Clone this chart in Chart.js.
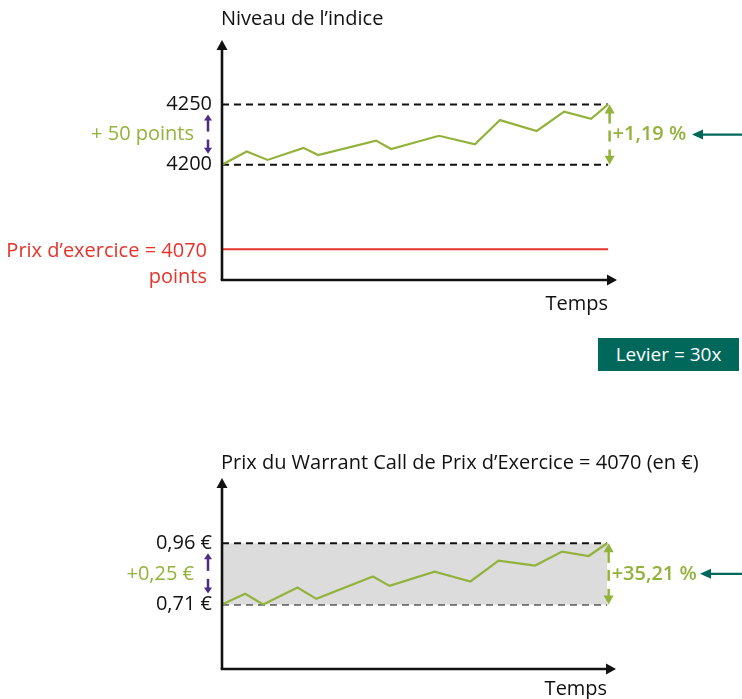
<!DOCTYPE html>
<html lang="fr">
<head>
<meta charset="utf-8">
<script src="https://cdn.jsdelivr.net/npm/chart.js@4.4.1/dist/chart.umd.min.js"></script>
<style>
  body { margin: 0; width: 742px; height: 699px; background: #fff; position: relative; overflow: hidden; font-family: "Open Sans", sans-serif; }
  #indexChart { position: absolute; left: 0; top: 0; }
  #warrantChart { position: absolute; left: 0; top: 430px; }
  #levier { position: absolute; left: 598px; top: 338px; width: 141px; height: 33px; background: #00685b; color: #fff; font-size: 19px; font-weight: 500; line-height: 33px; text-align: center; }
</style>
</head>
<body>
<canvas id="indexChart" width="742" height="340"></canvas>
<div id="levier">Levier = 30x</div>
<canvas id="warrantChart" width="742" height="269"></canvas>
<script>
const temps = [0, 6.4, 11.8, 21.1, 24.9, 39.9, 43.8, 56.2, 65.5, 72, 81.5, 88.6, 95.6, 100];
const niveauIndice = [4200, 4211, 4204, 4214, 4208, 4220, 4213, 4224, 4217, 4237, 4228, 4244, 4238, 4250];
const tempsWarrant = [0, 6, 10.7, 19.6, 24.5, 39.2, 43.5, 55.2, 64.5, 71.8, 81.3, 88.3, 95.2, 100];
const prixWarrant = [0.71, 0.754, 0.71, 0.779, 0.733, 0.824, 0.786, 0.844, 0.804, 0.889, 0.869, 0.926, 0.908, 0.96];
const indiceTicks = [4200, 4250];
const warrantTicks = [0.71, 0.96];
const prixExercice = 4070;
// le schéma n'est pas à l'échelle : la ligne rouge est tracée à ce niveau
const niveauTraceExercice = 4130;

const VERT = '#93b23b', ROUGE = '#e8332b', VIOLET = '#4b2d82', TEAL = '#00685b', NOIR = '#111';
const FONT = '"Open Sans", sans-serif';

function pts(xs, ys) { return xs.map((v, i) => ({ x: v, y: ys[i] })); }
function niveau(v) { return [{ x: 0, y: v }, { x: temps[temps.length - 1], y: v }]; }

function line(ctx, x1, y1, x2, y2) {
  ctx.beginPath(); ctx.moveTo(x1, y1); ctx.lineTo(x2, y2); ctx.stroke();
}
function head(ctx, x, y, dir, w, len) {
  ctx.beginPath();
  ctx.moveTo(x, y);
  if (dir === 'up') { ctx.lineTo(x - w / 2, y + len); ctx.lineTo(x + w / 2, y + len); }
  if (dir === 'down') { ctx.lineTo(x - w / 2, y - len); ctx.lineTo(x + w / 2, y - len); }
  if (dir === 'right') { ctx.lineTo(x - len, y - w / 2); ctx.lineTo(x - len, y + w / 2); }
  if (dir === 'left') { ctx.lineTo(x + len, y - w / 2); ctx.lineTo(x + len, y + w / 2); }
  ctx.closePath(); ctx.fill();
}
function text(ctx, s, x, y, align, color, weight) {
  ctx.font = (weight || '500') + ' 20px ' + FONT;
  ctx.fillStyle = color; ctx.textAlign = align; ctx.textBaseline = 'middle';
  ctx.fillText(s, x, y);
}

const schema = {
  id: 'schema',
  afterDraw(chart, args, o) {
    const { ctx, chartArea: a, scales: { x, y } } = chart;
    ctx.save();
    // axes avec flèches
    ctx.strokeStyle = NOIR; ctx.fillStyle = NOIR; ctx.lineWidth = 2.6;
    line(ctx, a.left, a.bottom, a.left, a.top + 8);
    head(ctx, a.left, a.top, 'up', 11, 10);
    line(ctx, a.left - 1.3, a.bottom, a.right - 8, a.bottom);
    head(ctx, a.right, a.bottom, 'right', 11, 10);

    text(ctx, o.titre, a.left - 1, a.top - o.titreDy, 'left', NOIR);
    text(ctx, 'Temps', x.getPixelForValue(100), a.bottom + o.tempsDy, 'right', NOIR);

    const yH = y.getPixelForValue(o.haut), yB = y.getPixelForValue(o.bas), mid = (yH + yB) / 2;

    // écart en valeur (flèches violettes)
    const xv = a.left - 14;
    ctx.strokeStyle = VIOLET; ctx.fillStyle = VIOLET; ctx.lineWidth = 2.5;
    line(ctx, xv, yH + 14, xv, mid - 3);
    head(ctx, xv, yH + 10, 'up', 8, 6);
    line(ctx, xv, mid + 5, xv, yB - 14);
    head(ctx, xv, yB - 11, 'down', 8, 6);
    text(ctx, o.ecart, a.left - 28, mid, 'right', VERT);

    // variation en % (flèche verte)
    const xg = x.getPixelForValue(100) + 1.5;
    ctx.strokeStyle = VERT; ctx.fillStyle = VERT; ctx.lineWidth = 2.5;
    head(ctx, xg, yH, 'up', 10, 9);
    line(ctx, xg, yH + 8, xg, mid - 11);
    line(ctx, xg, mid - 4, xg, mid + 7);
    line(ctx, xg, mid + 15, xg, yB - 8);
    head(ctx, xg, yB, 'down', 10, 9);
    text(ctx, o.variation, xg + 3, mid, 'left', VERT, '600');

    // flèche teal depuis la droite
    ctx.strokeStyle = TEAL; ctx.fillStyle = TEAL; ctx.lineWidth = 2.2;
    line(ctx, o.tealX + 8, mid, 742, mid);
    head(ctx, o.tealX, mid, 'left', 10, 11);

    if (o.exercice) {
      const yr = y.getPixelForValue(niveauTraceExercice);
      text(ctx, 'Prix d\u2019exercice = ' + prixExercice, a.left - 15, yr + 1.5, 'right', ROUGE);
      text(ctx, 'points', a.left - 15, yr + 27.5, 'right', ROUGE);
    }
    ctx.restore();
  }
};

function options(yMin, yMax, ticks, fmt, pad, deco) {
  return {
    responsive: false,
    animation: false,
    layout: { padding: pad },
    plugins: { legend: { display: false }, tooltip: { enabled: false }, schema: deco },
    elements: { point: { radius: 0 }, line: { tension: 0 } },
    scales: {
      x: { type: 'linear', min: 0, max: 102.3, display: false },
      y: {
        min: yMin, max: yMax,
        afterBuildTicks: s => { s.ticks = ticks.map(v => ({ value: v })); },
        afterFit: s => { s.width = 90; },
        grid: { display: false, drawTicks: false },
        border: { display: false },
        ticks: { padding: 10, color: NOIR, font: { family: FONT, size: 20, weight: '500' }, callback: fmt }
      }
    }
  };
}

new Chart(document.getElementById('indexChart'), {
  type: 'line',
  data: {
    datasets: [
      { data: pts(temps, niveauIndice), borderColor: VERT, borderWidth: 2.2, clip: false },
      { data: niveau(indiceTicks[1]), borderColor: NOIR, borderWidth: 2, borderDash: [7, 5], clip: false },
      { data: niveau(indiceTicks[0]), borderColor: NOIR, borderWidth: 2, borderDash: [7, 5], clip: false },
      { data: niveau(niveauTraceExercice), borderColor: ROUGE, borderWidth: 2, clip: false }
    ]
  },
  options: options(4104.6, 4303.3, indiceTicks, v => String(v),
    { left: 132, right: 125, top: 40, bottom: 60 },
    { titre: 'Niveau de l\u2019indice', titreDy: 21, tempsDy: 24, haut: 4250, bas: 4200,
      ecart: '+ 50 points', variation: '+1,19 %', tealX: 692, exercice: true }),
  plugins: [schema]
});

new Chart(document.getElementById('warrantChart'), {
  type: 'line',
  data: {
    datasets: [
      { data: pts(tempsWarrant, prixWarrant), borderColor: VERT, borderWidth: 2.2, clip: false },
      { data: niveau(warrantTicks[1]), borderColor: NOIR, borderWidth: 2, borderDash: [7, 5],
        fill: '+1', backgroundColor: '#dcdcdc', clip: false },
      { data: niveau(warrantTicks[0]), borderColor: NOIR, borderWidth: 2, borderDash: [7, 5], clip: false }
    ]
  },
  options: options(0.447, 1.226, warrantTicks, v => v.toFixed(2).replace('.', ',') + ' \u20ac',
    { left: 132, right: 126, top: 48, bottom: 30 },
    { titre: 'Prix du Warrant Call de Prix d\u2019Exercice = 4070 (en \u20ac)', titreDy: 15, tempsDy: 20,
      haut: 0.96, bas: 0.71, ecart: '+0,25 \u20ac', variation: '+35,21 %', tealX: 700, exercice: false }),
  plugins: [schema]
});
</script>
</body>
</html>
